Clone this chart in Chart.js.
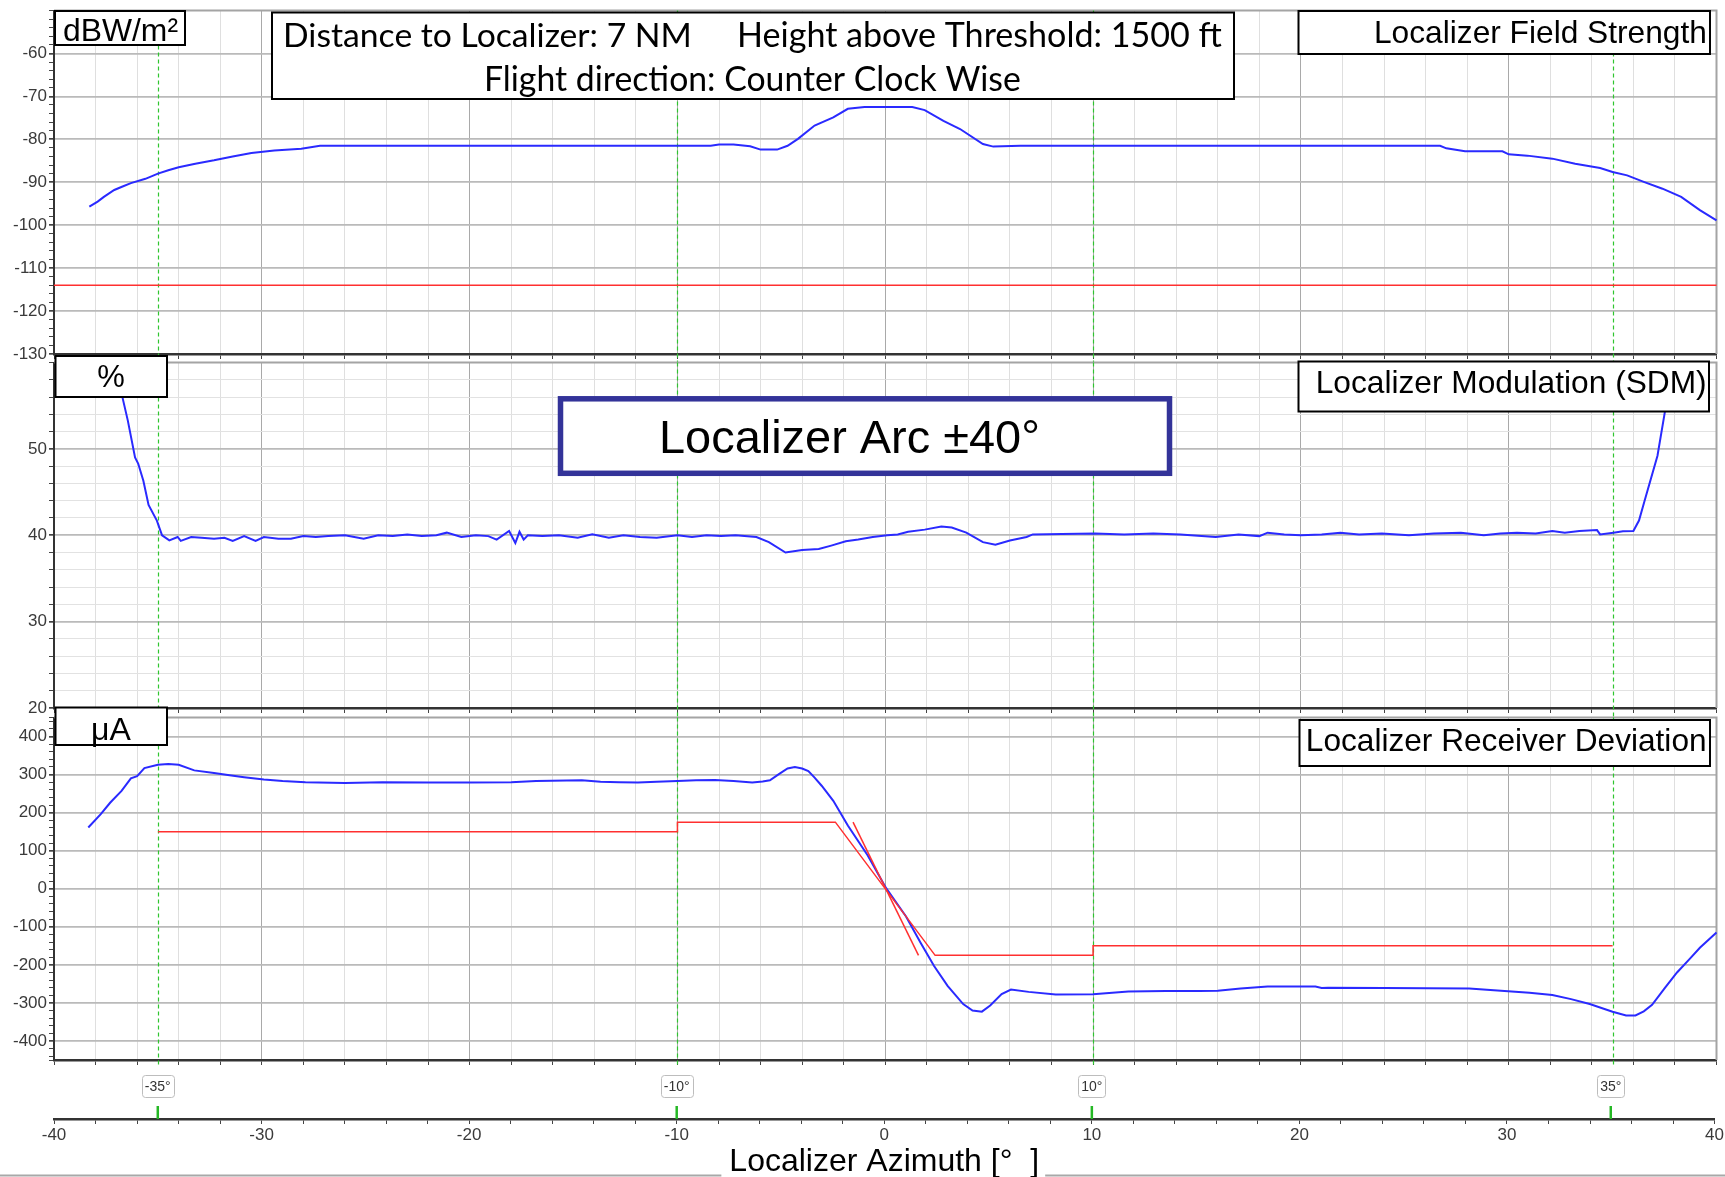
<!DOCTYPE html>
<html>
<head>
<meta charset="utf-8">
<script src="https://cdn.jsdelivr.net/npm/chart.js@4.4.1/dist/chart.umd.min.js"></script>
<style>
html,body{margin:0;padding:0;background:#fff;}
#wrap{position:relative;width:1725px;height:1177px;overflow:hidden;background:#fff;}
#wrap canvas{position:absolute;left:0;top:0;}
</style>
</head>
<body>
<div id="wrap">
<canvas id="c1" width="1725" height="1177"></canvas>
<canvas id="c2" width="1725" height="1177"></canvas>
<canvas id="c3" width="1725" height="1177"></canvas>
<canvas id="c4" width="1725" height="1177"></canvas>
</div>
<script>
// ---------------- DATA ----------------
// Panel 1: Localizer Field Strength (dBW/m²) vs azimuth (deg)
const fsAz  = [-38.3,-37.9,-37.6,-37.1,-36.7,-36.3,-35.6,-35.0,-34.5,-34.0,-33.2,-32.3,-31.4,-30.5,-29.4,-28.1,-27.2,-8.4,-8.0,-7.3,-6.5,-6.0,-5.2,-4.7,-4.2,-3.4,-2.5,-1.8,-1.0,1.3,1.9,2.8,3.6,4.7,5.2,6.5,26.7,27.0,27.9,29.7,30.0,30.9,32.1,33.2,34.4,35.0,35.7,36.5,37.4,38.3,39.2,40.0];
const fsVal = [-95.7,-94.5,-93.4,-91.8,-91.0,-90.2,-89.2,-88.0,-87.2,-86.5,-85.7,-84.9,-84.0,-83.2,-82.6,-82.2,-81.5,-81.5,-81.2,-81.2,-81.6,-82.4,-82.4,-81.5,-79.9,-76.8,-74.9,-72.9,-72.5,-72.5,-73.2,-75.7,-77.6,-81.1,-81.7,-81.5,-81.5,-82.1,-82.8,-82.8,-83.5,-83.8,-84.5,-85.7,-86.7,-87.6,-88.4,-89.9,-91.5,-93.4,-96.5,-98.9];
const fsLimitAz  = [-40, 40];
const fsLimitVal = [-114, -114];

// Panel 2: Localizer Modulation SDM (%)
const sdmAz  = [-37.1,-36.7,-36.45,-36.1,-35.95,-35.7,-35.45,-35.05,-34.8,-34.45,-34.05,-33.9,-33.4,-32.9,-32.3,-31.8,-31.4,-30.85,-30.3,-29.9,-29.2,-28.6,-28.0,-27.4,-26.8,-26.0,-25.1,-24.4,-23.7,-23.0,-22.3,-21.6,-21.1,-20.4,-19.7,-19.1,-18.7,-18.1,-17.8,-17.6,-17.4,-17.2,-16.5,-15.7,-14.8,-14.1,-13.3,-12.6,-11.8,-11.0,-10.0,-9.3,-8.6,-7.9,-7.2,-6.2,-5.6,-4.8,-4.0,-3.2,-2.6,-1.9,-1.3,-0.6,0.1,0.6,1.1,1.9,2.7,3.2,3.9,4.7,5.3,6.0,6.8,7.1,8.5,10.1,11.5,12.9,14.2,15.9,17.0,18.0,18.4,19.2,20.0,21.0,21.9,22.8,23.9,25.2,26.4,27.7,28.8,29.6,30.4,31.3,32.1,32.7,33.4,34.25,34.4,35.04,35.5,36.0,36.27,36.54,37.16,37.51,37.6,38.0,38.3];
const sdmVal = [61.5,55.9,53.3,49.0,48.3,46.3,43.5,41.7,40.0,39.4,39.8,39.35,39.8,39.7,39.6,39.7,39.35,39.9,39.35,39.8,39.6,39.6,39.9,39.8,39.9,40.0,39.6,40.0,39.9,40.1,39.9,40.0,40.3,39.8,40.0,39.9,39.5,40.5,39.1,40.4,39.5,40.0,39.9,40.0,39.7,40.1,39.7,40.0,39.8,39.7,40.0,39.8,40.0,39.9,40.0,39.8,39.2,38.0,38.3,38.4,38.8,39.3,39.5,39.8,40.0,40.1,40.4,40.65,41.0,40.9,40.3,39.2,38.9,39.4,39.8,40.1,40.15,40.2,40.1,40.2,40.1,39.8,40.1,39.9,40.3,40.1,40.0,40.1,40.3,40.1,40.2,40.0,40.2,40.3,40.0,40.2,40.3,40.2,40.5,40.3,40.5,40.6,40.1,40.3,40.45,40.5,41.7,44.0,49.2,54.2,55.6,60.5,63.0];

// Panel 3: Localizer Receiver Deviation (µA)
const devAz  = [-38.35,-37.75,-37.3,-36.75,-36.3,-36.0,-35.65,-35.0,-34.5,-34.0,-33.25,-32.3,-31.55,-30.85,-29.9,-29.0,-27.9,-26.0,-24.2,-22.0,-20.0,-18.0,-16.8,-14.6,-13.7,-12.8,-11.9,-11.0,-10.0,-9.1,-8.2,-7.3,-6.4,-5.9,-5.55,-5.1,-4.7,-4.35,-4.0,-3.7,-3.4,-3.05,-2.5,-1.8,-0.85,0.05,1.0,1.7,2.35,3.0,3.75,4.2,4.65,5.05,5.6,6.05,6.9,8.2,10.0,11.7,13.5,15.1,16.0,17.1,18.4,20.7,21.0,21.3,24.0,28.1,29.8,31.0,32.1,33.0,33.9,35.0,35.65,36.1,36.5,36.9,37.5,38.1,38.7,39.2,40.0];
const devVal = [161,196,226,257,290,296,317,326,328,326,311,304,298,293,287,283,280,278,280,279,279,280,283,285,281,280,279,281,283,285,286,283,279,282,285,302,316,320,316,309,292,270,231,166,88,1,-73,-142,-203,-255,-303,-320,-323,-307,-277,-265,-271,-278,-277,-270,-269,-269,-268,-262,-257,-257,-261,-260,-261,-262,-269,-273,-279,-290,-303,-323,-333,-333,-322,-305,-262,-220,-185,-155,-115];
const devLimitAz  = [-35, -10, -10, -2.4, 2.4, 10, 10, 35];
const devLimitVal = [150, 150, 175, 175, -175, -175, -150, -150];
const devSlopeAz  = [-1.55, 1.6];
const devSlopeVal = [175, -175];

// Axis / tick labels
const markerDegs   = [-35, -10, 10, 35];
const markerLabels = ['-35°', '-10°', '10°', '35°'];
const xLabelVals   = [-40, -30, -20, -10, 0, 10, 20, 30, 40];
const fsLabels  = [-130, -120, -110, -100, -90, -80, -70, -60];
const sdmLabels = [20, 30, 40, 50];
const devLabels = [-400, -300, -200, -100, 0, 100, 200, 300, 400];

// ---------------- HELPERS ----------------
const FONT = "'Liberation Sans', Arial, sans-serif";
const pts = (xs, ys) => xs.map((x, i) => ({x: x, y: ys[i]}));
function stepList(a, b, s) { const r = []; for (let v = a; v <= b + 1e-9; v += s) r.push(Math.round(v * 100) / 100); return r; }

const xTickVals = stepList(-40, 40, 2);

function fitText(ctx, text, family, targetW, x, base, weight) {
  ctx.font = (weight || '') + ' 100px ' + family;
  const m = ctx.measureText(text).width;
  const size = 100 * targetW / m;
  ctx.font = (weight || '') + ' ' + size.toFixed(2) + 'px ' + family;
  ctx.textAlign = 'left';
  ctx.textBaseline = 'alphabetic';
  ctx.fillStyle = '#000';
  ctx.fillText(text, x, base);
}
function drawBox(ctx, b) {
  ctx.save();
  ctx.fillStyle = '#fff';
  ctx.fillRect(b.x, b.y, b.w, b.h);
  ctx.strokeStyle = b.color || '#000';
  ctx.lineWidth = b.lw || 2;
  ctx.strokeRect(b.x, b.y, b.w, b.h);
  (b.texts || []).forEach(t => {
    if (t.size) {
      ctx.font = t.size + 'px ' + (t.family || FONT);
      ctx.fillStyle = '#000';
      ctx.textAlign = t.align || 'center';
      ctx.textBaseline = 'alphabetic';
      ctx.fillText(t.t, t.x, t.base);
    } else {
      fitText(ctx, t.t, t.family || FONT, t.w, t.x, t.base);
    }
  });
  ctx.restore();
}

function panelPlugin(id, boxes, markerBottom) {
  return {
    id: id,
    beforeDatasetsDraw(chart) {
      const ctx = chart.ctx, a = chart.chartArea, x = chart.scales.x;
      ctx.save();
      ctx.strokeStyle = '#a4a4a4';
      ctx.lineWidth = 2;
      ctx.beginPath();
      ctx.moveTo(a.left, a.top); ctx.lineTo(a.right, a.top); ctx.lineTo(a.right, a.bottom);
      ctx.stroke();
      ctx.strokeStyle = '#2fc52f';
      ctx.lineWidth = 1.2;
      ctx.setLineDash([4, 3]);
      markerDegs.forEach(v => {
        const px = Math.round(x.getPixelForValue(v)) + 0.5;
        ctx.beginPath(); ctx.moveTo(px, a.top); ctx.lineTo(px, markerBottom); ctx.stroke();
      });
      ctx.restore();
    },
    afterDraw(chart) { boxes.forEach(b => drawBox(chart.ctx, b)); }
  };
}

function xScaleCfg() {
  return {
    type: 'linear', min: -40, max: 40,
    afterBuildTicks: s => { s.ticks = xTickVals.map(v => ({value: v})); },
    afterFit: s => { s.height = 8; },
    ticks: {display: false, autoSkip: false},
    grid: {
      color: c => (c.tick && c.tick.value % 10 === 0) ? '#a9a9a9' : '#dfdfdf',
      lineWidth: 1, drawTicks: true, tickLength: 5, tickColor: '#444'
    },
    border: {color: '#333', width: 2.5}
  };
}
function yScaleCfg(min, max, tickVals, labels, minorGrid) {
  const labelSet = new Set(labels);
  return {
    type: 'linear', min: min, max: max,
    afterBuildTicks: s => { s.ticks = tickVals.map(v => ({value: v})); },
    afterFit: s => { s.width = 54; },
    ticks: {
      autoSkip: false, padding: 2, color: '#3a3a3a',
      font: {family: FONT, size: 17, lineHeight: 1},
      callback: v => labelSet.has(v) ? String(v) : ''
    },
    grid: {
      color: c => {
        const v = c.tick ? c.tick.value : null;
        if (v === max) return 'rgba(0,0,0,0)';
        if (labelSet.has(v)) return '#bababa';
        return minorGrid ? '#e2e2e2' : 'rgba(0,0,0,0)';
      },
      lineWidth: c => (c.tick && labelSet.has(c.tick.value)) ? 1.7 : 1,
      drawTicks: true, tickLength: 5, tickColor: '#444'
    },
    border: {color: '#333', width: 2}
  };
}
function lineDs(data, color, width) {
  return {data: data, borderColor: color, borderWidth: width, pointRadius: 0, tension: 0, fill: false, clip: 1};
}
const BLUE = '#2a2aff', RED = '#ff3030';
const baseOpts = {
  responsive: false, animation: false, devicePixelRatio: 1, events: [],
  plugins: {legend: {display: false}, tooltip: {enabled: false}}
};

// ---------------- PANEL 1 ----------------
new Chart(document.getElementById('c1'), {
  type: 'line',
  data: {datasets: [
    lineDs(pts(fsLimitAz, fsLimitVal), RED, 1.5),
    lineDs(pts(fsAz, fsVal), BLUE, 2)
  ]},
  options: Object.assign({}, baseOpts, {
    layout: {padding: {left: 0, right: 8.5, top: 9.5, bottom: 815}},
    scales: {x: xScaleCfg(), y: yScaleCfg(-130, -50, stepList(-130, -50, 2), fsLabels, false)}
  }),
  plugins: [panelPlugin('p1', [
    {x: 55, y: 11, w: 130, h: 34, texts: [{t: 'dBW/m²', w: 115, x: 63, base: 41}]},
    {x: 272, y: 12.5, w: 962, h: 86.5, texts: [
      {t: 'Distance to Localizer: 7 NM', family: "Lato, 'Open Sans', sans-serif", w: 409, x: 283, base: 46.5},
      {t: 'Height above Threshold: 1500 ft', family: "Lato, 'Open Sans', sans-serif", w: 485, x: 737, base: 46.5},
      {t: 'Flight direction: Counter Clock Wise', family: "Lato, 'Open Sans', sans-serif", w: 537, x: 484, base: 91}
    ]},
    {x: 1298.5, y: 11, w: 411.5, h: 43, texts: [{t: 'Localizer Field Strength', w: 333, x: 1374, base: 42.5}]}
  ], 362)]
});

// ---------------- PANEL 2 ----------------
new Chart(document.getElementById('c2'), {
  type: 'line',
  data: {datasets: [lineDs(pts(sdmAz, sdmVal), BLUE, 2)]},
  options: Object.assign({}, baseOpts, {
    layout: {padding: {left: 0, right: 8.5, top: 362.5, bottom: 461}},
    scales: {x: xScaleCfg(), y: yScaleCfg(20, 60, stepList(20, 60, 2), sdmLabels, true)}
  }),
  plugins: [panelPlugin('p2', [
    {x: 55.5, y: 356, w: 111.5, h: 41, texts: [{t: '%', size: 31, x: 111, base: 387, align: 'center'}]},
    {x: 1298.5, y: 361.5, w: 410.5, h: 50, texts: [{t: 'Localizer Modulation (SDM)', w: 391, x: 1315.7, base: 392.7}]},
    {x: 560.5, y: 398.8, w: 609, h: 74.5, lw: 5.5, color: '#333399', texts: [{t: 'Localizer Arc ±40°', w: 381, x: 659, base: 452.7}]}
  ], 717)]
});

// ---------------- PANEL 3 ----------------
const devTicks = [-450].concat(stepList(-440, 440, 20), [450]);
new Chart(document.getElementById('c3'), {
  type: 'line',
  data: {datasets: [
    lineDs(pts(devLimitAz, devLimitVal), RED, 1.5),
    lineDs(pts(devSlopeAz, devSlopeVal), RED, 1.5),
    lineDs(pts(devAz, devVal), BLUE, 2)
  ]},
  options: Object.assign({}, baseOpts, {
    layout: {padding: {left: 0, right: 8.5, top: 717.5, bottom: 109}},
    scales: {x: xScaleCfg(), y: yScaleCfg(-450, 450, devTicks, devLabels, false)}
  }),
  plugins: [panelPlugin('p3', [
    {x: 55.5, y: 707.5, w: 111.5, h: 37.5, texts: [{t: 'μA', size: 32, x: 111, base: 739.5, align: 'center'}]},
    {x: 1299.5, y: 720, w: 410.5, h: 46, texts: [{t: 'Localizer Receiver Deviation', w: 401, x: 1305.8, base: 750.7}]}
  ], 1067)]
});

// ---------------- BOTTOM AXIS ----------------
const xLabelSet = new Set(xLabelVals);
new Chart(document.getElementById('c4'), {
  type: 'line',
  data: {datasets: [{data: [], pointRadius: 0}]},
  options: Object.assign({}, baseOpts, {
    layout: {padding: {left: 54, right: 8.5, top: 1060, bottom: 0}},
    scales: {
      x: {
        type: 'linear', min: -40, max: 40, position: 'bottom',
        afterBuildTicks: s => { s.ticks = xTickVals.map(v => ({value: v})); },
        afterFit: s => { s.height = 58; },
        ticks: {autoSkip: false, maxRotation: 0, padding: 1, color: '#3a3a3a',
                font: {family: FONT, size: 17}, callback: v => xLabelSet.has(v) ? String(v) : ''},
        grid: {drawOnChartArea: false, drawTicks: true, tickLength: 5, tickColor: '#444'},
        border: {color: '#333', width: 2.5},
        title: {display: true, text: 'Localizer Azimuth [°  ]', color: '#000',
                font: {family: FONT, size: 32, lineHeight: 0.94}, padding: {top: 0, bottom: 0}}
      },
      y: {display: false, min: 0, max: 1}
    }
  }),
  plugins: [{
    id: 'markers',
    afterDraw(chart) {
      const ctx = chart.ctx, x = chart.scales.x, a = chart.chartArea;
      ctx.save();
      markerDegs.forEach((v, i) => {
        const px = x.getPixelForValue(v);
        ctx.font = '14px ' + FONT;
        const tw = ctx.measureText(markerLabels[i]).width;
        const bw = tw + 6, bh = 22, by = 1075.5;
        ctx.fillStyle = '#fff';
        ctx.strokeStyle = '#bdbdbd';
        ctx.lineWidth = 1;
        ctx.beginPath();
        ctx.roundRect(Math.round(px - bw / 2) + 0.5, by, Math.round(bw), bh, 3);
        ctx.fill(); ctx.stroke();
        ctx.fillStyle = '#333';
        ctx.textAlign = 'center'; ctx.textBaseline = 'middle';
        ctx.fillText(markerLabels[i], px, by + bh / 2 + 1);
        ctx.strokeStyle = '#25b825';
        ctx.lineWidth = 2.5;
        ctx.beginPath(); ctx.moveTo(px, 1106); ctx.lineTo(px, a.bottom); ctx.stroke();
      });
      // underline across the bottom, interrupted by the axis title
      ctx.font = '32px ' + FONT;
      const tw = ctx.measureText('Localizer Azimuth [°  ]').width;
      const cx = (a.left + a.right) / 2;
      ctx.strokeStyle = '#a8a8a8';
      ctx.lineWidth = 2;
      ctx.beginPath();
      ctx.moveTo(0, 1175.5); ctx.lineTo(cx - tw / 2 - 8, 1175.5);
      ctx.moveTo(cx + tw / 2 + 6, 1175.5); ctx.lineTo(1725, 1175.5);
      ctx.stroke();
      ctx.restore();
    }
  }]
});
</script>
</body>
</html>
